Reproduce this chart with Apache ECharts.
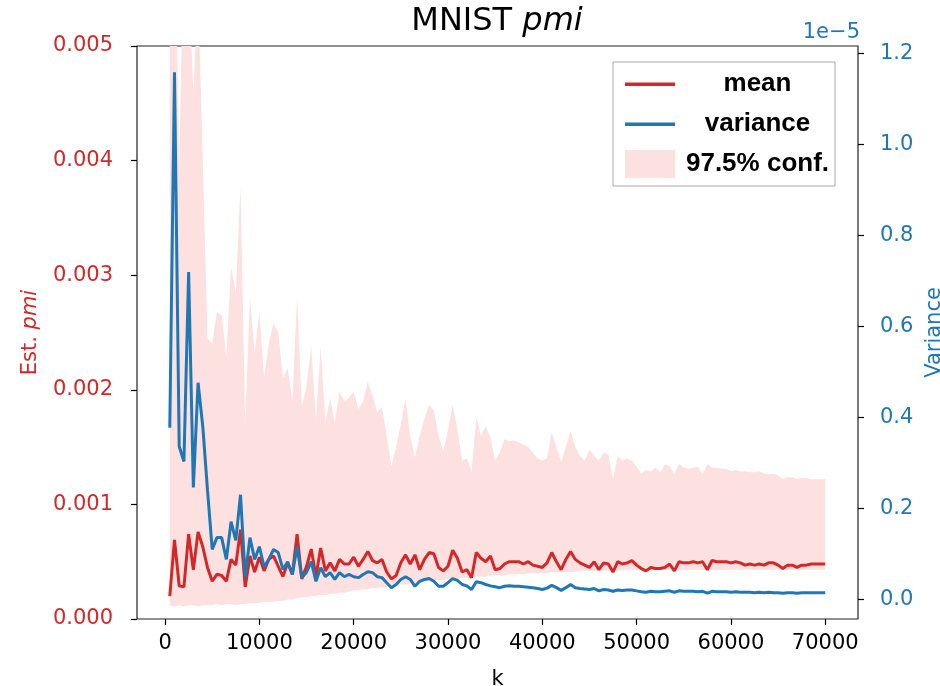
<!DOCTYPE html>
<html>
<head>
<meta charset="utf-8">
<script src="https://cdn.jsdelivr.net/npm/echarts@6/dist/echarts.min.js"></script>
<style>html,body{margin:0;padding:0;background:#fff}#c{width:940px;height:686px}</style>
</head>
<body>
<div id="c"></div>
<script>
// k values: 500 .. 70000 step 500 (listed explicitly)
const kValues = [500,1000,1500,2000,2500,3000,3500,4000,4500,5000,5500,6000,6500,7000,7500,8000,8500,9000,9500,10000,
10500,11000,11500,12000,12500,13000,13500,14000,14500,15000,15500,16000,16500,17000,17500,18000,18500,19000,19500,20000,
20500,21000,21500,22000,22500,23000,23500,24000,24500,25000,25500,26000,26500,27000,27500,28000,28500,29000,29500,30000,
30500,31000,31500,32000,32500,33000,33500,34000,34500,35000,35500,36000,36500,37000,37500,38000,38500,39000,39500,40000,
40500,41000,41500,42000,42500,43000,43500,44000,44500,45000,45500,46000,46500,47000,47500,48000,48500,49000,49500,50000,
50500,51000,51500,52000,52500,53000,53500,54000,54500,55000,55500,56000,56500,57000,57500,58000,58500,59000,59500,60000,
60500,61000,61500,62000,62500,63000,63500,64000,64500,65000,65500,66000,66500,67000,67500,68000,68500,69000,69500,70000];

// Est. pmi mean (x 1e-3)
const meanE3 = [0.20,0.69,0.29,0.28,0.74,0.43,0.76,0.63,0.45,0.33,0.39,0.38,0.33,0.52,0.47,0.78,0.28,0.55,0.41,0.54,
0.42,0.52,0.55,0.46,0.37,0.49,0.39,0.74,0.35,0.46,0.61,0.37,0.62,0.42,0.49,0.42,0.52,0.48,0.48,0.54,
0.46,0.52,0.59,0.51,0.49,0.52,0.41,0.35,0.38,0.49,0.56,0.48,0.56,0.43,0.52,0.58,0.57,0.45,0.42,0.46,
0.60,0.53,0.41,0.43,0.36,0.58,0.53,0.50,0.55,0.43,0.44,0.48,0.50,0.50,0.50,0.48,0.50,0.47,0.46,0.45,
0.49,0.58,0.50,0.43,0.52,0.59,0.52,0.49,0.47,0.45,0.50,0.43,0.49,0.48,0.41,0.50,0.48,0.49,0.51,0.47,
0.44,0.42,0.45,0.44,0.44,0.45,0.48,0.42,0.50,0.49,0.49,0.50,0.49,0.50,0.43,0.51,0.50,0.50,0.50,0.49,
0.50,0.49,0.47,0.48,0.47,0.48,0.47,0.49,0.49,0.47,0.44,0.47,0.47,0.45,0.47,0.47,0.48,0.48,0.48,0.48];

// variance (x 1e-5)
const varianceE5 = [0.377,1.158,0.336,0.303,0.719,0.246,0.476,0.38,0.24,0.11,0.136,0.136,0.088,0.171,0.13,0.23,0.05,0.136,0.088,0.116,
0.072,0.088,0.11,0.103,0.066,0.083,0.055,0.116,0.048,0.06,0.083,0.04,0.07,0.05,0.059,0.044,0.059,0.05,0.055,0.05,
0.048,0.055,0.061,0.059,0.05,0.048,0.037,0.026,0.033,0.044,0.05,0.044,0.029,0.04,0.044,0.046,0.04,0.029,0.029,0.037,
0.046,0.042,0.033,0.03,0.022,0.039,0.037,0.033,0.03,0.028,0.026,0.029,0.03,0.029,0.029,0.028,0.027,0.026,0.024,0.022,
0.025,0.031,0.026,0.02,0.026,0.033,0.026,0.024,0.023,0.022,0.024,0.019,0.022,0.021,0.018,0.021,0.02,0.021,0.021,0.019,
0.017,0.016,0.018,0.017,0.017,0.018,0.019,0.016,0.019,0.018,0.018,0.018,0.017,0.018,0.014,0.018,0.017,0.017,0.017,0.016,
0.017,0.016,0.016,0.016,0.015,0.016,0.015,0.016,0.015,0.015,0.014,0.015,0.015,0.014,0.015,0.015,0.015,0.015,0.015,0.015];

// 97.5% confidence band: upper and lower (x 1e-3)
const upperE3 = [5.8,6.5,3.9,6.2,5.6,4.6,5.5,4.0,2.45,2.4,2.68,2.65,2.29,3.07,2.85,3.77,1.71,2.81,2.32,2.68,
2.11,2.4,2.58,2.5,2.1,2.19,1.91,2.81,1.85,2.03,2.38,1.74,2.38,1.71,1.93,1.71,1.98,1.9,1.93,1.98,
1.83,1.9,2.07,1.95,1.8,1.85,1.6,1.33,1.5,1.7,1.92,1.6,1.41,1.6,1.75,1.87,1.82,1.6,1.46,1.65,
1.87,1.65,1.38,1.4,1.29,1.76,1.6,1.68,1.58,1.38,1.45,1.57,1.55,1.56,1.54,1.52,1.5,1.45,1.4,1.38,
1.4,1.63,1.5,1.37,1.5,1.64,1.5,1.42,1.38,1.48,1.42,1.38,1.45,1.43,1.22,1.42,1.38,1.4,1.38,1.33,
1.27,1.3,1.29,1.32,1.28,1.35,1.33,1.27,1.35,1.32,1.31,1.32,1.33,1.26,1.35,1.32,1.32,1.31,1.31,1.29,
1.3,1.29,1.29,1.28,1.28,1.29,1.27,1.26,1.27,1.25,1.22,1.24,1.24,1.22,1.23,1.23,1.22,1.22,1.22,1.22];
const lowerE3 = [0.12,0.11,0.12,0.11,0.12,0.12,0.11,0.12,0.12,0.12,0.13,0.12,0.13,0.13,0.12,0.13,0.13,0.14,0.14,0.14,
0.15,0.15,0.15,0.16,0.16,0.17,0.17,0.18,0.19,0.19,0.2,0.2,0.21,0.21,0.22,0.22,0.23,0.23,0.24,0.25,
0.25,0.26,0.26,0.27,0.27,0.28,0.28,0.29,0.29,0.3,0.3,0.31,0.31,0.32,0.32,0.33,0.33,0.34,0.34,0.35,
0.35,0.35,0.36,0.36,0.36,0.37,0.37,0.37,0.38,0.38,0.38,0.38,0.39,0.39,0.39,0.39,0.4,0.4,0.4,0.4,
0.4,0.41,0.41,0.41,0.41,0.41,0.41,0.42,0.42,0.42,0.42,0.42,0.42,0.42,0.42,0.42,0.43,0.43,0.43,0.43,
0.43,0.43,0.43,0.43,0.43,0.43,0.43,0.43,0.43,0.43,0.43,0.43,0.43,0.43,0.43,0.43,0.43,0.43,0.43,0.43,
0.43,0.43,0.43,0.43,0.43,0.43,0.43,0.43,0.43,0.43,0.43,0.43,0.43,0.43,0.43,0.43,0.43,0.43,0.43,0.43];

const xTicks = [0,10000,20000,30000,40000,50000,60000,70000];
const leftTicks = [0,0.001,0.002,0.003,0.004,0.005];
const rightTicks = [0,0.2,0.4,0.6,0.8,1.0,1.2];

const RED = '#d62728', BLUE = '#1f77b4', PINK = '#fde0e0';
const FONT = 'DejaVu Sans';

// value first, k second (encode maps them) so that stacking happens on the y value
const meanData = kValues.map((k, i) => [meanE3[i] / 1000, k]);
const varData = kValues.map((k, i) => [varianceE5[i], k]);
const lowerData = kValues.map((k, i) => [lowerE3[i] / 1000, k]);
const bandData = kValues.map((k, i) => [(upperE3[i] - lowerE3[i]) / 1000, k]);
const ENC = {x: 1, y: 0};

const lineIcon = 'path://M0,0M0,12.5L50,12.5L50,16L0,16ZM50,28';

const chart = echarts.init(document.getElementById('c'), null, {renderer: 'canvas'});
chart.setOption({
  animation: false,
  backgroundColor: '#fff',
  title: [{
    text: '{a|MNIST }{b|pmi}',
    left: 497, top: 6, textAlign: 'center', padding: 0,
    textStyle: {rich: {
      a: {fontFamily: FONT, fontSize: 32, fontWeight: 'normal', color: '#000'},
      b: {fontFamily: FONT, fontSize: 32, fontWeight: 'normal', color: '#000', fontStyle: 'italic'}
    }}
  }, {
    text: '1e\u22125',
    right: 80, top: 22, padding: 0,
    textStyle: {fontFamily: FONT, fontSize: 21, fontWeight: 'normal', color: BLUE}
  }],
  grid: {left: 137, right: 82, top: 46, bottom: 67, show: true, borderColor: '#222', borderWidth: 1.2,
         backgroundColor: 'transparent', containLabel: false, outerBoundsMode: 'none'},
  legend: {
    left: 613, top: 62, orient: 'vertical',
    padding: [8, 6, 8, 12], itemGap: 12, itemWidth: 50, itemHeight: 28,
    backgroundColor: '#fff', borderColor: '#aaa', borderWidth: 1, borderRadius: 0,
    data: [
      {name: 'mean', icon: lineIcon, itemStyle: {color: RED, borderWidth: 0}},
      {name: 'variance', icon: lineIcon, itemStyle: {color: BLUE, borderWidth: 0}},
      {name: '97.5% conf.', icon: 'rect', itemStyle: {color: PINK, borderWidth: 0}}
    ],
    formatter: n => '{t|' + n + '}',
    textStyle: {rich: {t: {fontFamily: 'Liberation Sans', fontSize: 26, fontWeight: 'bold', color: '#000', width: 155, align: 'center'}}}
  },
  xAxis: {
    type: 'value', min: -2975, max: 73475,
    name: 'k', nameLocation: 'middle', nameGap: 50,
    nameTextStyle: {fontFamily: FONT, fontSize: 21, color: '#000'},
    axisLine: {show: false, onZero: false},
    axisTick: {show: true, length: 6, lineStyle: {color: '#000', width: 1.2}, customValues: xTicks},
    axisLabel: {fontFamily: FONT, fontSize: 21, color: '#000', margin: 14, customValues: xTicks, formatter: v => String(v)},
    splitLine: {show: false}
  },
  yAxis: [{
    type: 'value', min: 0, max: 0.005, position: 'left',
    name: '{a|Est. }{b|pmi}', nameLocation: 'middle', nameGap: 96,
    nameTextStyle: {rich: {
      a: {fontFamily: FONT, fontSize: 21, color: RED},
      b: {fontFamily: FONT, fontSize: 21, color: RED, fontStyle: 'italic'}
    }},
    axisLine: {show: false, onZero: false},
    axisTick: {show: true, length: 6, lineStyle: {color: '#000', width: 1.2}, customValues: leftTicks},
    axisLabel: {fontFamily: FONT, fontSize: 21, color: RED, margin: 24, customValues: leftTicks, formatter: v => v.toFixed(3)},
    splitLine: {show: false}
  }, {
    type: 'value', min: -0.0428, max: 1.2155, position: 'right',
    name: 'Variance', nameLocation: 'middle', nameGap: 58,
    nameTextStyle: {fontFamily: FONT, fontSize: 21, color: BLUE},
    axisLine: {show: false, onZero: false},
    axisTick: {show: true, length: 6, lineStyle: {color: '#000', width: 1.2}, customValues: rightTicks},
    axisLabel: {fontFamily: FONT, fontSize: 21, color: BLUE, margin: 22, customValues: rightTicks, formatter: v => v.toFixed(1)},
    splitLine: {show: false}
  }],
  series: [{
    name: 'lower', type: 'line', stack: 'conf', yAxisIndex: 0, data: lowerData, encode: ENC,
    symbol: 'none', showSymbol: false, lineStyle: {opacity: 0, width: 0}, silent: true, z: 1
  }, {
    name: '97.5% conf.', type: 'line', stack: 'conf', yAxisIndex: 0, data: bandData, encode: ENC,
    symbol: 'none', showSymbol: false, lineStyle: {opacity: 0, width: 0}, itemStyle: {color: PINK},
    areaStyle: {color: PINK, opacity: 1}, silent: true, z: 1
  }, {
    name: 'mean', type: 'line', yAxisIndex: 0, data: meanData, encode: ENC,
    symbol: 'none', showSymbol: false, itemStyle: {color: RED}, lineStyle: {color: RED, width: 3}, z: 3
  }, {
    name: 'variance', type: 'line', yAxisIndex: 1, data: varData, encode: ENC,
    symbol: 'none', showSymbol: false, itemStyle: {color: BLUE}, lineStyle: {color: BLUE, width: 3}, z: 4
  }]
});
</script>
</body>
</html>
